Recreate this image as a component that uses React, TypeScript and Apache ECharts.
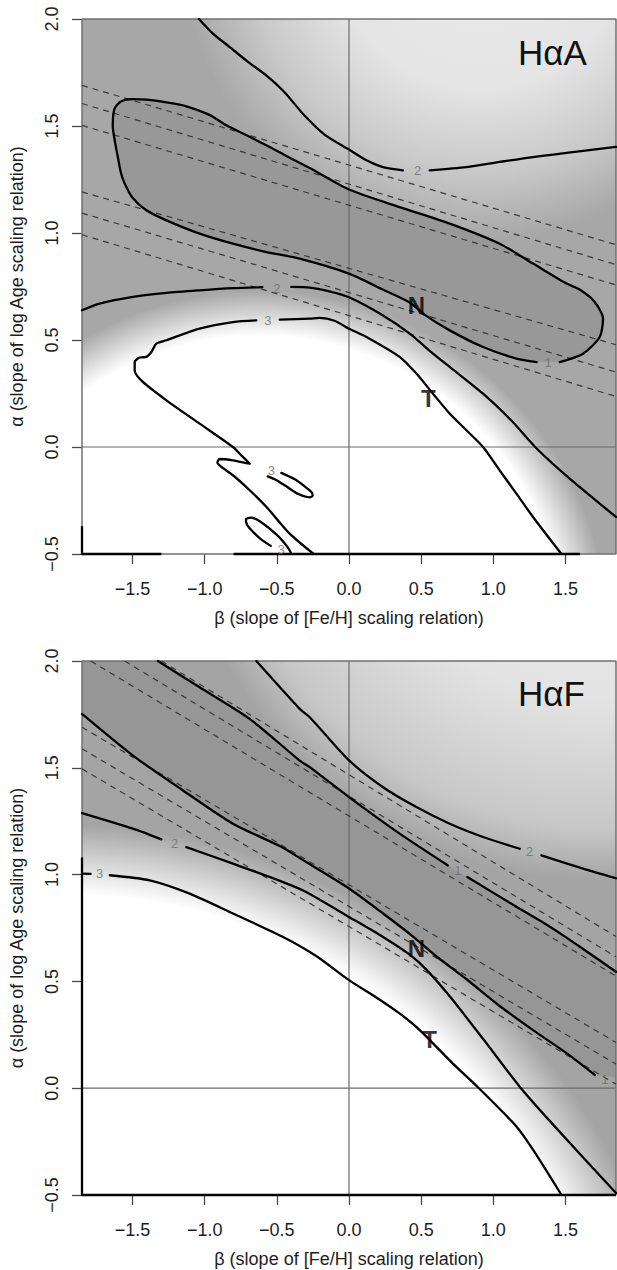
import React, { useEffect, useRef } from 'react';
import * as echarts from 'echarts';

type Pt = [number, number];
type Lab = [number, number, string];

const FONT = "'Liberation Sans', Arial, Helvetica, sans-serif";

const X_MIN = -1.85, X_MAX = 1.85, Y_MIN = -0.5, Y_MAX = 2.0;
const xTicks = [-1.5, -1.0, -0.5, 0, 0.5, 1.0, 1.5];
const xTickLabels = ['−1.5', '−1.0', '−0.5', '0.0', '0.5', '1.0', '1.5'];
const yTicks = [-0.5, 0, 0.5, 1.0, 1.5, 2.0];
const yTickLabels = ['−0.5', '0.0', '0.5', '1.0', '1.5', '2.0'];
const panelTitles = ['HαA', 'HαF'];
const xTitle = 'β (slope of [Fe/H] scaling relation)';
const yTitle = 'α (slope of log Age scaling relation)';

// ---------------- Panel HαA ----------------
const A_upper2: Pt[][] = [
  [[-1.04, 2.0], [-0.943, 1.932], [-0.827, 1.869], [-0.70, 1.80], [-0.58, 1.74], [-0.45, 1.66], [-0.31, 1.55], [-0.17, 1.46], [0, 1.39], [0.121, 1.34], [0.236, 1.308], [0.374, 1.293]],
  [[0.559, 1.293], [0.814, 1.308], [1.044, 1.332], [1.275, 1.355], [1.507, 1.374], [1.85, 1.402]],
];
const A_loop1: Pt[][] = [
  [[1.46, 0.397], [1.622, 0.436], [1.737, 0.514], [1.76, 0.60], [1.70, 0.68], [1.60, 0.735], [1.507, 0.764], [1.275, 0.857], [1.044, 0.95], [0.698, 1.044], [0.351, 1.121], [0, 1.203], [-0.263, 1.30], [-0.434, 1.36], [-0.55, 1.402], [-0.72, 1.46], [-0.85, 1.503], [-0.97, 1.553], [-1.127, 1.592], [-1.265, 1.61], [-1.40, 1.623], [-1.50, 1.626], [-1.58, 1.615], [-1.625, 1.58], [-1.637, 1.50], [-1.62, 1.42], [-1.603, 1.36], [-1.58, 1.28], [-1.557, 1.235], [-1.50, 1.165], [-1.404, 1.106], [-1.265, 1.059], [-1.035, 0.997], [-0.804, 0.95], [-0.572, 0.911], [-0.342, 0.88], [0, 0.81], [0.236, 0.735], [0.42, 0.675], [0.53, 0.615], [0.698, 0.545], [0.929, 0.467], [1.16, 0.413], [1.30, 0.397]],
];
const A_lower2: Pt[][] = [
  [[-1.85, 0.639], [-1.728, 0.67], [-1.497, 0.701], [-1.265, 0.72], [-1.035, 0.732], [-0.804, 0.742], [-0.60, 0.747]],
  [[-0.40, 0.748], [-0.272, 0.745], [-0.15, 0.73], [0, 0.70], [0.236, 0.615], [0.421, 0.53], [0.582, 0.436], [0.698, 0.374], [0.929, 0.249], [1.13, 0.12], [1.29, 0.0], [1.507, -0.135], [1.85, -0.327]],
];
const A_level3: Pt[][] = [
  [[-0.245, -0.5], [-0.411, -0.405], [-0.572, -0.28], [-0.688, -0.202], [-0.804, -0.132], [-0.884, -0.093], [-0.912, -0.073], [-0.896, -0.056], [-0.804, -0.062], [-0.688, -0.078], [-0.746, -0.039], [-0.804, 0.0], [-1.035, 0.109], [-1.265, 0.218], [-1.428, 0.304], [-1.485, 0.358], [-1.485, 0.397], [-1.45, 0.418], [-1.404, 0.421], [-1.369, 0.444], [-1.335, 0.483], [-1.265, 0.499], [-1.035, 0.553], [-0.804, 0.584], [-0.642, 0.592]],
  [[-0.48, 0.595], [-0.272, 0.60], [-0.203, 0.603], [-0.10, 0.59], [0, 0.553], [0.121, 0.514], [0.351, 0.421], [0.467, 0.343], [0.582, 0.249], [0.698, 0.156], [0.814, 0.078], [0.929, 0.0], [1.044, -0.109], [1.16, -0.218], [1.275, -0.327], [1.472, -0.5]],
  [[-0.469, -0.121], [-0.376, -0.151], [-0.307, -0.184], [-0.258, -0.212], [-0.252, -0.228], [-0.272, -0.235], [-0.351, -0.22], [-0.446, -0.179], [-0.515, -0.151], [-0.563, -0.137]],
  [[-0.398, -0.5], [-0.423, -0.47], [-0.494, -0.414], [-0.613, -0.349], [-0.68, -0.33], [-0.715, -0.337], [-0.705, -0.365], [-0.66, -0.40], [-0.613, -0.429], [-0.542, -0.462]],
];
const A_edge3: Pt[][] = [
  [[-1.85, -0.37], [-1.85, -0.5], [-1.30, -0.5]],
  [[-0.80, -0.5], [1.60, -0.5]],
];
const A_dashed: Pt[][] = [
  [[-1.85, 1.69], [1.85, 0.945]],
  [[-1.85, 1.605], [1.85, 0.852]],
  [[-1.85, 1.503], [1.85, 0.757]],
  [[-1.85, 1.192], [1.85, 0.478]],
  [[-1.85, 1.093], [1.85, 0.35]],
  [[-1.85, 0.992], [1.85, 0.236]],
];
const A_contourLabels: Lab[] = [
  [0.476, 1.293, '2'], [1.379, 0.397, '1'], [-0.50, 0.742, '2'], [-0.562, 0.592, '3'], [-0.538, -0.109, '3'], [-0.470, -0.478, '3'],
];
const A_lineLabels: Lab[] = [[0.467, 0.662, 'N'], [0.549, 0.226, 'T']];

// ---------------- Panel HαF ----------------
const F_upper2: Pt[][] = [
  [[-0.642, 2.0], [-0.457, 1.861], [-0.342, 1.776], [-0.272, 1.737], [0, 1.535], [0.236, 1.409], [0.467, 1.316], [0.698, 1.238], [0.929, 1.176], [1.183, 1.121]],
  [[1.333, 1.09], [1.622, 1.028], [1.85, 0.983]],
];
const F_upper1: Pt[][] = [
  [[-1.324, 2.0], [-1.035, 1.877], [-0.688, 1.729], [-0.342, 1.534], [-0.272, 1.503], [0, 1.363], [0.351, 1.192], [0.686, 1.043]],
  [[0.82, 0.989], [1.16, 0.849], [1.356, 0.771], [1.507, 0.705], [1.85, 0.545]],
];
const F_lower1: Pt[][] = [
  [[-1.85, 1.752], [-1.497, 1.557], [-1.15, 1.394], [-0.804, 1.238], [-0.47, 1.13], [-0.30, 1.06], [0, 0.935], [0.236, 0.818], [0.444, 0.71], [0.60, 0.62], [0.814, 0.51], [1.044, 0.385], [1.275, 0.272], [1.507, 0.164], [1.703, 0.062]],
];
const F_lower2: Pt[][] = [
  [[-1.85, 1.288], [-1.497, 1.215], [-1.30, 1.165]],
  [[-1.127, 1.129], [-0.804, 1.051], [-0.457, 0.965], [-0.30, 0.92], [0, 0.802], [0.236, 0.708], [0.421, 0.625], [0.536, 0.555], [0.698, 0.43], [0.93, 0.23], [1.183, 0.007], [1.40, -0.16], [1.85, -0.491]],
];
const F_level3: Pt[][] = [
  [[-1.85, 1.005], [-1.79, 1.003]],
  [[-1.658, 0.997], [-1.381, 0.973], [-1.104, 0.911], [-0.804, 0.818], [-0.457, 0.708], [-0.23, 0.62], [0, 0.506], [0.2, 0.42], [0.35, 0.35], [0.47, 0.285], [0.582, 0.21], [0.72, 0.115], [0.90, 0.0], [1.16, -0.179], [1.275, -0.288], [1.472, -0.5]],
];
const F_edge3: Pt[][] = [
  [[-1.85, 1.08], [-1.85, -0.5], [1.85, -0.5]],
];
const F_dashed: Pt[][] = [
  [[-1.30, 2.0], [1.85, 0.71]],
  [[-1.555, 2.0], [1.85, 0.615]],
  [[-1.79, 2.0], [1.85, 0.525]],
  [[-1.85, 1.69], [1.85, 0.214]],
  [[-1.85, 1.589], [1.85, 0.113]],
  [[-1.85, 1.495], [1.85, 0.019]],
];
const F_contourLabels: Lab[] = [
  [1.252, 1.106, '2'], [0.755, 1.02, '1'], [1.772, 0.039, '1'], [-1.208, 1.145, '2'], [-1.728, 1.003, '3'],
];
const F_lineLabels: Lab[] = [[0.467, 0.654, 'N'], [0.559, 0.226, 'T']];

// reference lines and frame
const refLines: Pt[][] = [
  [[0, Y_MIN], [0, Y_MAX]],
  [[X_MIN, 0], [X_MAX, 0]],
];
const frame: Pt[] = [[X_MIN, Y_MIN], [X_MIN, Y_MAX], [X_MAX, Y_MAX], [X_MAX, Y_MIN], [X_MIN, Y_MIN]];

const flat = (segs: Pt[][]): Pt[] => segs.reduce((a: Pt[], s) => a.concat(s), []);

interface Layer {
  kind: 'radial' | 'poly';
  center?: Pt;
  r?: number;
  stops?: { offset: number; color: string }[];
  points?: Pt[];
  color?: string;
}

const shadeA: Layer[] = [
  { kind: 'radial', center: [0.906, 2.368], r: 300, stops: [
    { offset: 0, color: '#ededed' }, { offset: 0.5, color: '#e4e4e4' }, { offset: 0.77, color: '#c9c9c9' }, { offset: 1, color: '#a7a7a7' }] },
  { kind: 'poly', points: flat(A_loop1), color: '#989898' },
  { kind: 'radial', center: [-0.619, -0.903], r: 350, stops: [
    { offset: 0, color: 'rgba(255,255,255,1)' }, { offset: 0.87, color: 'rgba(255,255,255,1)' }, { offset: 1, color: 'rgba(255,255,255,0)' }] },
];

const shadeF: Layer[] = [
  { kind: 'radial', center: [1.737, 2.983], r: 430, stops: [
    { offset: 0, color: '#ededed' }, { offset: 0.58, color: '#e3e3e3' }, { offset: 0.88, color: '#c7c7c7' }, { offset: 1, color: '#a4a4a4' }] },
  { kind: 'poly', points: [...flat(F_upper1), [X_MAX, 0.05] as Pt, ...flat(F_lower1).slice().reverse(), [X_MIN, Y_MAX] as Pt], color: '#969696' },
  { kind: 'radial', center: [-2.005, -1.69], r: 625, stops: [
    { offset: 0, color: 'rgba(255,255,255,1)' }, { offset: 0.888, color: 'rgba(255,255,255,1)' }, { offset: 1, color: 'rgba(255,255,255,0)' }] },
];

const panels = [
  { shade: shadeA, contours: [A_upper2, A_loop1, A_lower2, A_level3], edges: A_edge3, dashed: A_dashed, cLabels: A_contourLabels, nLabels: A_lineLabels },
  { shade: shadeF, contours: [F_upper2, F_upper1, F_lower1, F_lower2, F_level3], edges: F_edge3, dashed: F_dashed, cLabels: F_contourLabels, nLabels: F_lineLabels },
];

const fmt = (vals: number[], labels: string[]) => (v: number) => {
  const k = vals.findIndex((t) => Math.abs(t - v) < 1e-9);
  return k >= 0 ? labels[k] : '';
};

function buildOption() {
  const grids = [
    { left: 82, top: 19, width: 534, height: 535 },
    { left: 82, top: 661, width: 534, height: 534 },
  ];
  const xAxes: any[] = [];
  const yAxes: any[] = [];
  const series: any[] = [];
  const textStyle = { fontSize: 18, color: '#1e1e1e', fontFamily: FONT };

  panels.forEach((P, i) => {
    xAxes.push({
      type: 'value', gridIndex: i, min: X_MIN, max: X_MAX,
      axisLine: { show: false, onZero: false },
      splitLine: { show: false },
      axisTick: { show: true, customValues: xTicks, length: 10, lineStyle: { color: '#4a4a4a', width: 1.3 } },
      axisLabel: { show: true, customValues: xTicks, formatter: fmt(xTicks, xTickLabels), margin: 26, ...textStyle },
      name: xTitle, nameLocation: 'middle', nameGap: 55, nameTextStyle: textStyle,
    });
    yAxes.push({
      type: 'value', gridIndex: i, min: Y_MIN, max: Y_MAX, interval: 0.5,
      axisLine: { show: false, onZero: false },
      splitLine: { show: false },
      axisTick: { show: true, length: 10, lineStyle: { color: '#4a4a4a', width: 1.3 } },
      axisLabel: { show: true, rotate: 90, formatter: fmt(yTicks, yTickLabels), margin: 21, ...textStyle },
      name: yTitle, nameLocation: 'middle', nameGap: 56, nameRotate: 90, nameTextStyle: textStyle,
    });

    const layers = P.shade;
    series.push({
      type: 'custom', xAxisIndex: i, yAxisIndex: i, coordinateSystem: 'cartesian2d',
      data: layers.map(() => [0, 0]), silent: true, z: 1, clip: true,
      renderItem: (params: any, api: any) => {
        const L = layers[params.dataIndex];
        const cs = params.coordSys;
        if (L.kind === 'radial') {
          const c = api.coord(L.center);
          return {
            type: 'rect', shape: { x: cs.x, y: cs.y, width: cs.width, height: cs.height },
            style: { fill: new echarts.graphic.RadialGradient(c[0], c[1], L.r as number, L.stops as any, true) },
          };
        }
        return { type: 'polygon', shape: { points: (L.points as Pt[]).map((p) => api.coord(p)) }, style: { fill: L.color } };
      },
    });

    refLines.forEach((seg) => series.push({
      type: 'line', xAxisIndex: i, yAxisIndex: i, data: seg, symbol: 'none', silent: true, z: 2,
      lineStyle: { color: '#6a6a6a', width: 1.2 },
    }));
    series.push({
      type: 'line', xAxisIndex: i, yAxisIndex: i, data: frame, symbol: 'none', silent: true, z: 3, clip: false,
      lineStyle: { color: '#707070', width: 1.5 },
    });
    P.dashed.forEach((seg) => series.push({
      type: 'line', xAxisIndex: i, yAxisIndex: i, data: seg, symbol: 'none', silent: true, z: 4,
      lineStyle: { color: '#3a3a3a', width: 1.2, type: [6, 5] },
    }));
    P.contours.forEach((c) => c.forEach((seg) => series.push({
      type: 'line', xAxisIndex: i, yAxisIndex: i, data: seg, symbol: 'none', silent: true, z: 5, smooth: 0.25,
      lineStyle: { color: '#000', width: 2.3, cap: 'round', join: 'round' },
    })));
    P.edges.forEach((seg) => series.push({
      type: 'line', xAxisIndex: i, yAxisIndex: i, data: seg, symbol: 'none', silent: true, z: 5, clip: false,
      lineStyle: { color: '#000', width: 2.3 },
    }));
    series.push({
      type: 'scatter', xAxisIndex: i, yAxisIndex: i, silent: true, z: 6, symbolSize: 1,
      itemStyle: { color: 'rgba(0,0,0,0)' },
      data: P.cLabels.map(([x, y, t]) => ({ value: [x, y], name: t })),
      label: { show: true, position: 'inside', formatter: '{b}', color: '#6e6e6e', fontSize: 13, fontFamily: FONT },
    });
    series.push({
      type: 'scatter', xAxisIndex: i, yAxisIndex: i, silent: true, z: 6, symbolSize: 1,
      itemStyle: { color: 'rgba(0,0,0,0)' },
      data: P.nLabels.map(([x, y, t]) => ({ value: [x, y], name: t })),
      label: { show: true, position: 'inside', formatter: '{b}', color: '#000', fontSize: 24, fontWeight: 'bold', fontFamily: FONT },
    });
  });

  return {
    animation: false,
    backgroundColor: '#ffffff',
    grid: grids,
    xAxis: xAxes,
    yAxis: yAxes,
    series,
    graphic: [
      { type: 'text', x: 518, y: 52.5, z: 10, style: { text: panelTitles[0], fontSize: 35, fontFamily: FONT, fill: '#111', align: 'left', verticalAlign: 'middle' } },
      { type: 'text', x: 518, y: 693.5, z: 10, style: { text: panelTitles[1], fontSize: 35, fontFamily: FONT, fill: '#111', align: 'left', verticalAlign: 'middle' } },
    ],
  };
}

export default function App() {
  const ref = useRef<HTMLDivElement>(null);
  useEffect(() => {
    if (!ref.current) return;
    const chart = echarts.init(ref.current, undefined, { renderer: 'svg' });
    chart.setOption(buildOption() as any);
    return () => chart.dispose();
  }, []);
  return <div ref={ref} style={{ position: 'absolute', left: 0, top: 0, width: 617, height: 1270, background: '#fff' }} />;
}
